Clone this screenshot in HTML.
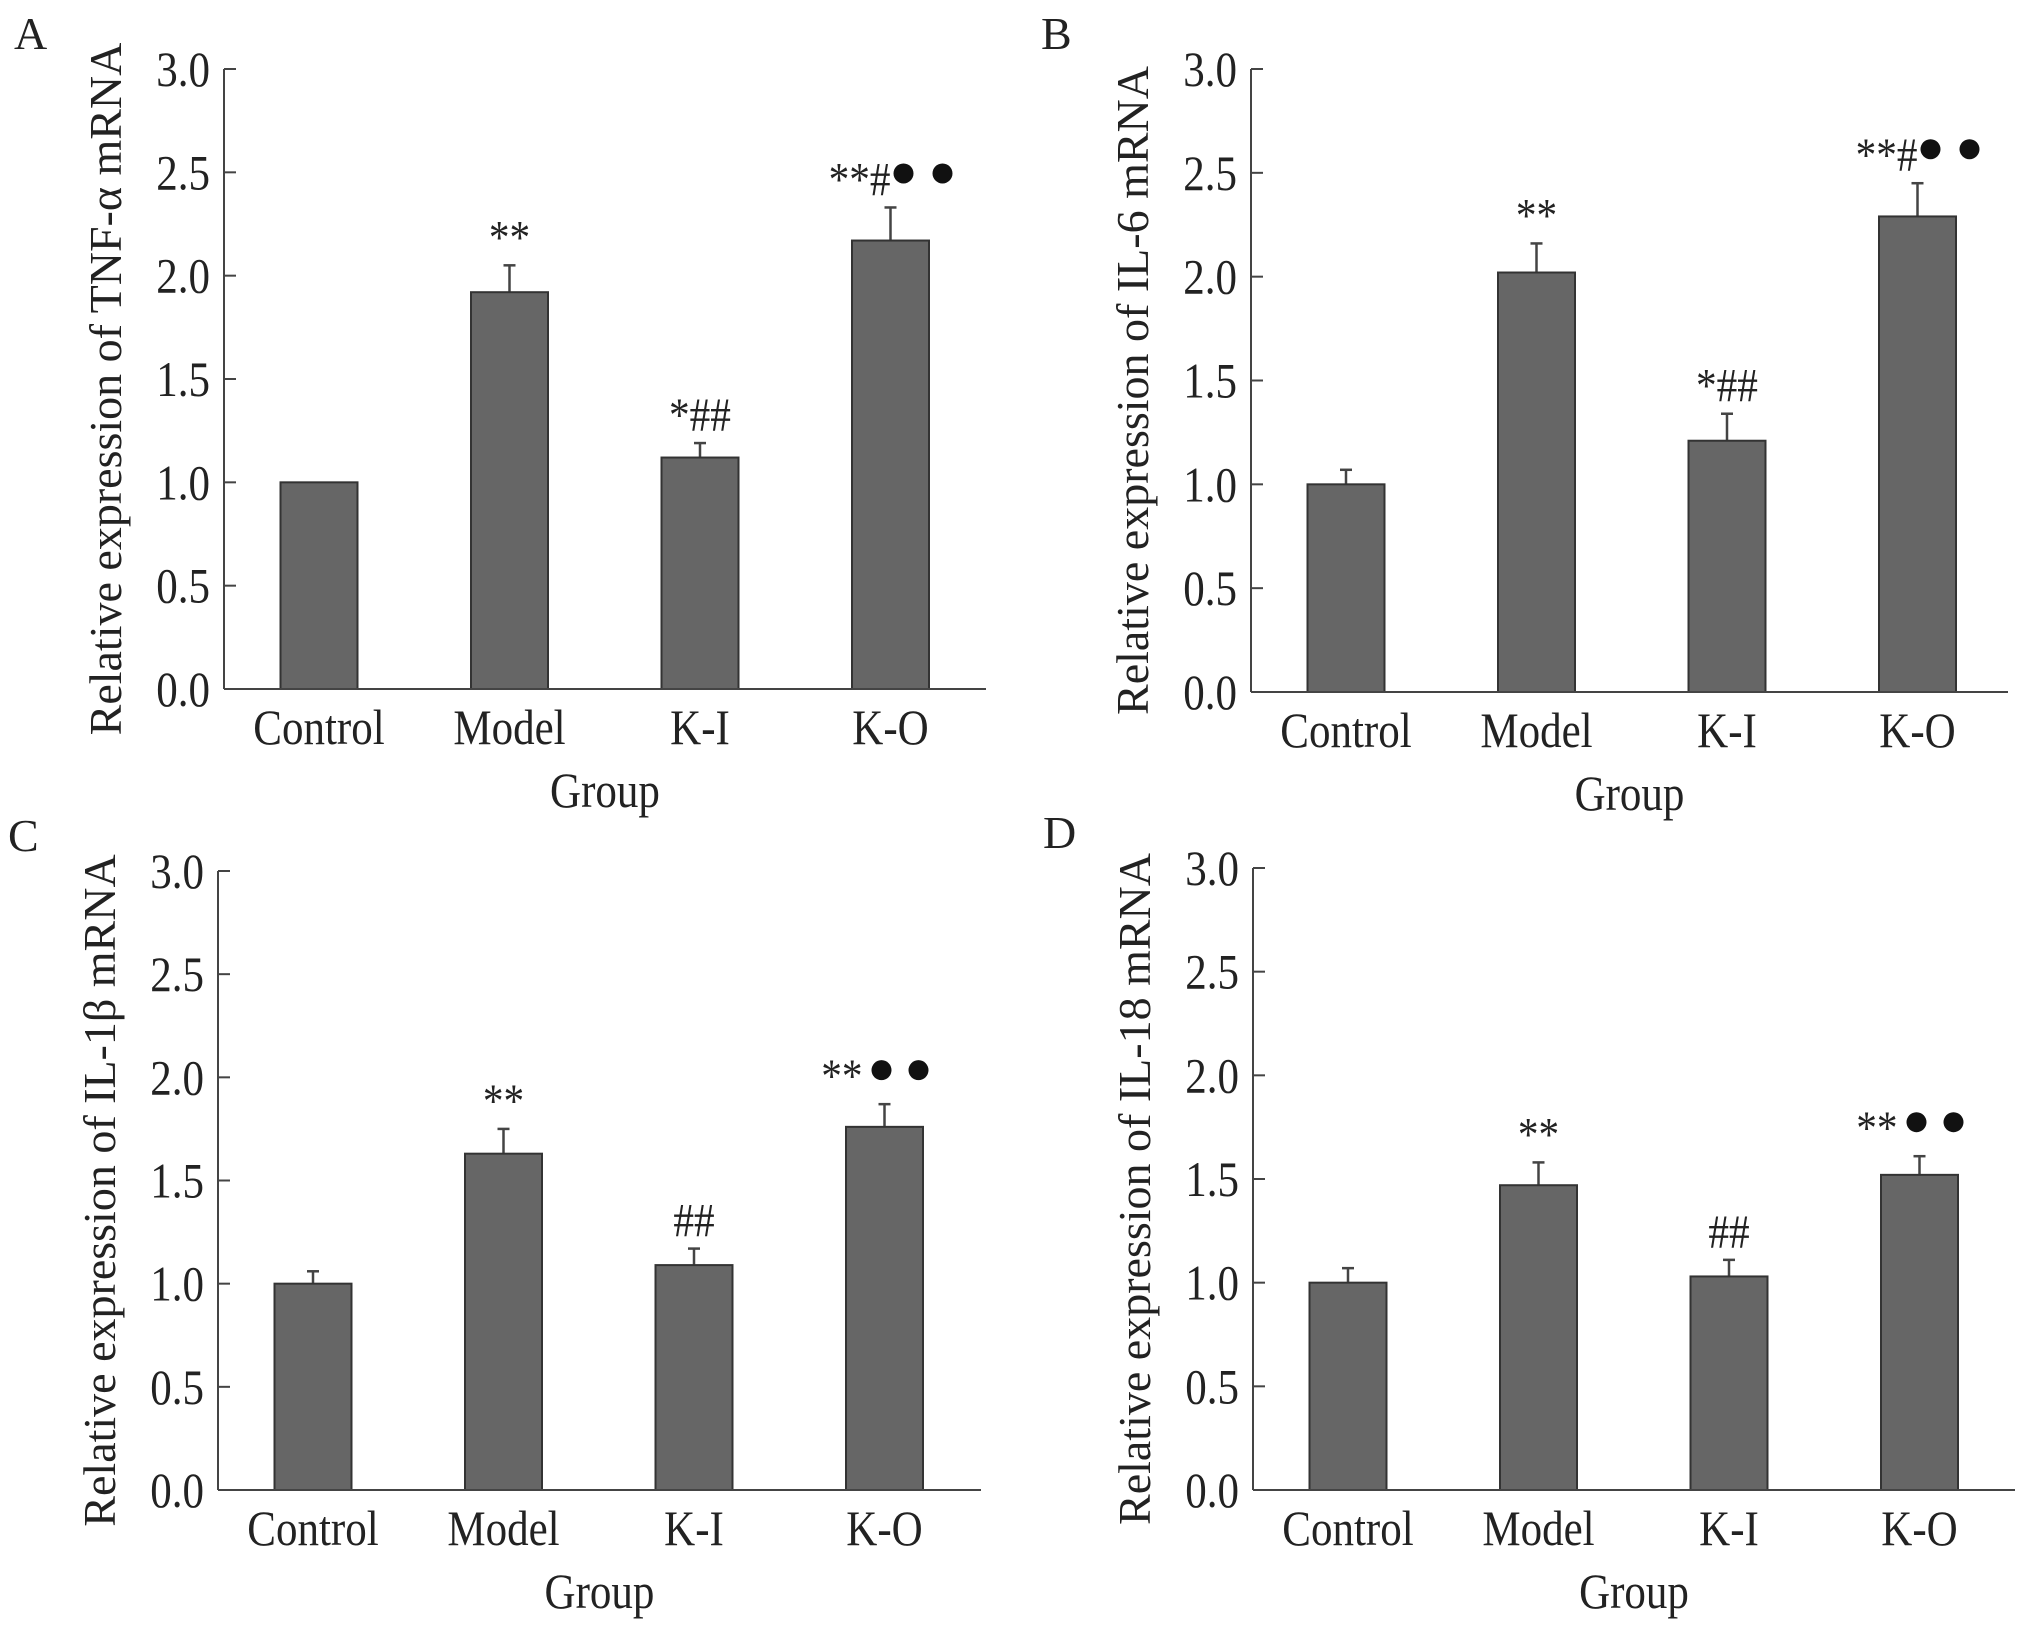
<!DOCTYPE html>
<html><head><meta charset="utf-8">
<style>
html,body{margin:0;padding:0;background:#fff;}
svg{display:block;}
text{font-family:"Liberation Serif","Times New Roman",serif;fill:#222;}
</style></head>
<body>
<svg id="fig" width="2031" height="1630" viewBox="0 0 2031 1630" xmlns="http://www.w3.org/2000/svg"></svg>
<script>
const categories = ["Control", "Model", "K-I", "K-O"];
const tickValues = [0, 0.5, 1.0, 1.5, 2.0, 2.5, 3.0];
const tickLabels = ["0.0", "0.5", "1.0", "1.5", "2.0", "2.5", "3.0"];
const valuesA = [1.0, 1.92, 1.12, 2.17];
const errorsA = [1.0, 2.05, 1.19, 2.33];
const annosA = ["", "**", "*##", "**#"];
const valuesB = [1.0, 2.02, 1.21, 2.29];
const errorsB = [1.07, 2.16, 1.34, 2.45];
const annosB = ["", "**", "*##", "**#"];
const valuesC = [1.0, 1.63, 1.09, 1.76];
const errorsC = [1.06, 1.75, 1.17, 1.87];
const annosC = ["", "**", "##", "**"];
const valuesD = [1.0, 1.47, 1.03, 1.52];
const errorsD = [1.07, 1.58, 1.11, 1.61];
const annosD = ["", "**", "##", "**"];
const dotsA = [false, false, false, true];
const dotsB = [false, false, false, true];
const dotsC = [false, false, false, true];
const dotsD = [false, false, false, true];

const NS = "http://www.w3.org/2000/svg";
const svg = document.getElementById("fig");
function mk(tag, attrs, parent, txt){
  const e = document.createElementNS(NS, tag);
  for (const k in attrs) e.setAttribute(k, attrs[k]);
  if (txt !== undefined) e.textContent = txt;
  (parent || svg).appendChild(e);
  return e;
}
const SX = 0.86;

function panel(p){
  const g = mk("g", {});
  
  
  const yS = v => p.yBot - (p.yBot - p.yTop) * v / 3.0;
  const xS = i => p.ax + 95 + i * 190.5;
  const lt = mk("text", {x: p.ax - 210, y: p.yTop - 20, "font-size": 46}, g, p.letter);
  
  
  p.values.forEach((v, i) => {
    const cx = xS(i);
    const top = yS(v);
    const et = yS(p.errors[i]);
    if (p.errors[i] > v + 0.001) {
      const el = mk("line", {x1: cx, x2: cx, y1: top, y2: et, stroke: "#444", "stroke-width": 2.5}, g);
      
      
      const ec = mk("line", {x1: cx - 6, x2: cx + 6, y1: et, y2: et, stroke: "#444", "stroke-width": 2.5}, g);
      
      
    }
    const r = mk("rect", {x: cx - 38.5, y: top, width: 77, height: p.yBot - top, fill: "#666", stroke: "#333", "stroke-width": 2}, g);
    
    
    const a = p.annos[i];
    const dots = p.dots[i];
    if (a) {
      const hasHash = a.indexOf("#") >= 0;
      const tx = dots ? (hasHash ? cx : cx - 22) : cx;
      const t = mk("text", {x: tx / SX, y: et - 12, "font-size": 48, "text-anchor": dots ? "end" : "middle", transform: "scale(" + SX + ",1)"}, g, a);
      
      
    }
    if (dots) {
      const off = (a.indexOf("#") >= 0) ? [13, 52] : [-3, 34];
      off.forEach(o => {
        const c = mk("circle", {cx: cx + o, cy: et - 34, r: 10, fill: "#111"}, g);
        
        
      });
    }
  });
  const ya = mk("line", {x1: p.ax, x2: p.ax, y1: p.yTop, y2: p.yBot, stroke: "#444", "stroke-width": 2}, g);
  
  
  const xa = mk("line", {x1: p.ax, x2: p.xEnd, y1: p.yBot, y2: p.yBot, stroke: "#444", "stroke-width": 2}, g);
  
  
  tickValues.forEach((tv, i) => {
    const y = yS(tv);
    const tk = mk("line", {x1: p.ax, x2: p.ax + 12, y1: y, y2: y, stroke: "#444", "stroke-width": 2}, g);
    
    
    const tl = mk("text", {x: (p.ax - 14) / SX, y: y + 17, "font-size": 50, "text-anchor": "end", transform: "scale(" + SX + ",1)"}, g, tickLabels[i]);
    
    
  });
  categories.forEach((c, i) => {
    const cl = mk("text", {x: xS(i) / SX, y: p.yBot + 55, "font-size": 50, "text-anchor": "middle", transform: "scale(" + SX + ",1)"}, g, c);
    
    
  });
  const gx = (p.ax + p.xEnd) / 2;
  const xt = mk("text", {x: gx / SX, y: p.yBot + 118, "font-size": 50, "text-anchor": "middle", transform: "scale(" + SX + ",1)"}, g, "Group");
  
  
  const cy = (p.yTop + p.yBot) / 2 + 10;
  const yt = mk("text", {x: p.ax - 103, y: cy, "font-size": 46, "text-anchor": "middle", transform: "rotate(-90 " + (p.ax - 103) + " " + cy + ")"}, g, p.title);
  
  
}

panel({letter: "A", ax: 224, yTop: 69, yBot: 689, xEnd: 986, title: "Relative expression of TNF-\u03b1  mRNA", values: valuesA, errors: errorsA, annos: annosA, dots: dotsA});
panel({letter: "B", ax: 1251, yTop: 69, yBot: 692, xEnd: 2008, title: "Relative expression of IL-6 mRNA", values: valuesB, errors: errorsB, annos: annosB, dots: dotsB});
panel({letter: "C", ax: 218, yTop: 871, yBot: 1490, xEnd: 981, title: "Relative expression of IL-1\u03b2  mRNA", values: valuesC, errors: errorsC, annos: annosC, dots: dotsC});
panel({letter: "D", ax: 1253, yTop: 868, yBot: 1490, xEnd: 2015, title: "Relative expression of IL-18 mRNA", values: valuesD, errors: errorsD, annos: annosD, dots: dotsD});
</script>
</body></html>
